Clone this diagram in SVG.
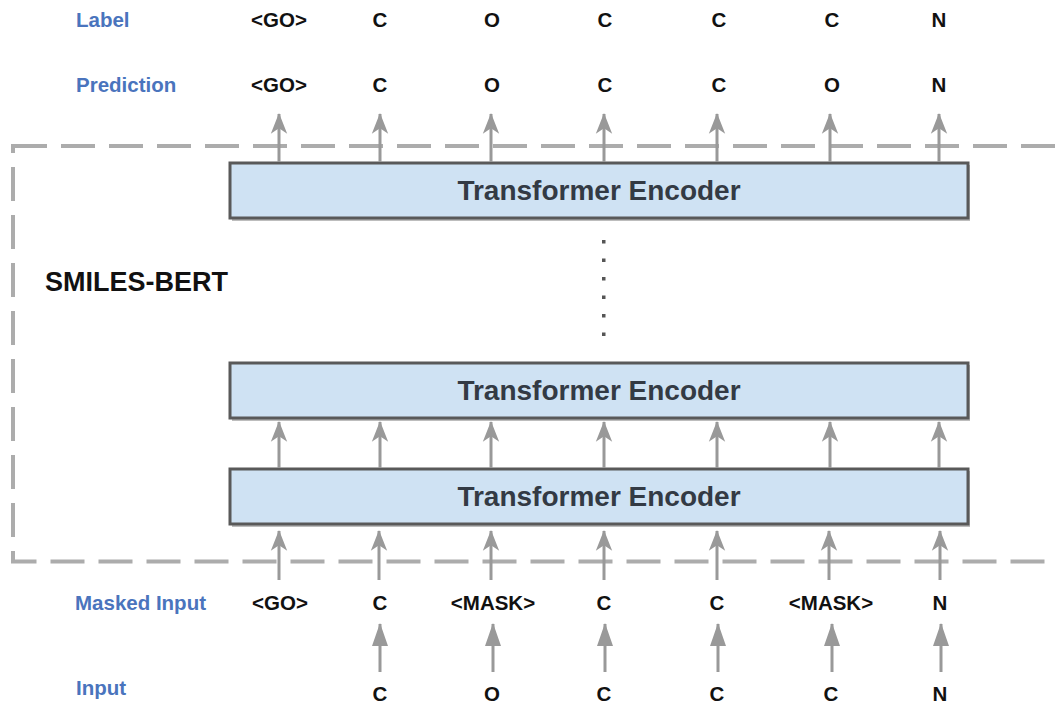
<svg xmlns="http://www.w3.org/2000/svg" width="1057" height="706" viewBox="0 0 1057 706">
<defs>
<style>
.lbl{font-family:"Liberation Sans",Arial,sans-serif;font-weight:bold;font-size:20.5px;fill:#4a74bd}
.tok{font-family:"Liberation Sans",Arial,sans-serif;font-weight:bold;font-size:20.5px;fill:#111;text-anchor:middle}
.enc rect.b{fill:#cfe2f3;stroke:#595959;stroke-width:3}
.enc rect.s{fill:#bdbdbd}
.enc text{font-family:"Liberation Sans",Arial,sans-serif;font-weight:bold;font-size:28px;fill:#333a44;text-anchor:middle}
.ar{stroke:#999;stroke-width:3;fill:none}
.dot{fill:#555}
</style>
<marker id="notch" markerUnits="userSpaceOnUse" markerWidth="24" markerHeight="24" viewBox="-20 -10 22 20" refX="0" refY="0" orient="auto">
<path d="M1,0 L-18,-7.5 L-13,0 L-18,7.5 Z" fill="#999"/>
</marker>
<marker id="tri" markerUnits="userSpaceOnUse" markerWidth="26" markerHeight="26" viewBox="-24 -10 26 20" refX="0" refY="0" orient="auto">
<path d="M1,0 L-22,-8 L-22,8 Z" fill="#999"/>
</marker>
</defs>
<rect width="1057" height="706" fill="#fff"/>

<g id="smiles-bert">
<rect x="13" y="146" width="1100" height="415.5" fill="none" stroke="#acacac" stroke-width="4" stroke-dasharray="34 14"/>
<text x="45" y="291" style="font-family:'Liberation Sans',Arial,sans-serif;font-weight:bold;font-size:27px;fill:#111">SMILES-BERT</text>
</g>

<g id="row-labels">
<text class="lbl" x="76" y="27">Label</text>
<text class="lbl" x="76" y="92">Prediction</text>
<text class="lbl" x="75" y="610">Masked Input</text>
<text class="lbl" x="76" y="695">Input</text>
</g>

<g id="label-tokens">
<text class="tok" x="279" y="27">&lt;GO&gt;</text>
<text class="tok" x="380" y="27">C</text>
<text class="tok" x="492" y="27">O</text>
<text class="tok" x="605" y="27">C</text>
<text class="tok" x="719" y="27">C</text>
<text class="tok" x="832" y="27">C</text>
<text class="tok" x="939" y="27">N</text>
</g>

<g id="prediction-tokens">
<text class="tok" x="279" y="92">&lt;GO&gt;</text>
<text class="tok" x="380" y="92">C</text>
<text class="tok" x="492" y="92">O</text>
<text class="tok" x="605" y="92">C</text>
<text class="tok" x="719" y="92">C</text>
<text class="tok" x="832" y="92">O</text>
<text class="tok" x="939" y="92">N</text>
</g>

<g id="masked-tokens">
<text class="tok" x="280" y="610">&lt;GO&gt;</text>
<text class="tok" x="380" y="610">C</text>
<text class="tok" x="493" y="610">&lt;MASK&gt;</text>
<text class="tok" x="604" y="610">C</text>
<text class="tok" x="717" y="610">C</text>
<text class="tok" x="831" y="610">&lt;MASK&gt;</text>
<text class="tok" x="940" y="610">N</text>
</g>

<g id="input-tokens">
<text class="tok" x="380" y="701">C</text>
<text class="tok" x="492" y="701">O</text>
<text class="tok" x="604" y="701">C</text>
<text class="tok" x="717" y="701">C</text>
<text class="tok" x="831" y="701">C</text>
<text class="tok" x="940" y="701">N</text>
</g>

<g id="encoder-top" class="enc">
<rect class="s" x="232" y="165" width="738" height="56"/>
<rect class="b" x="230" y="163" width="738" height="55"/>
<text x="599" y="200">Transformer Encoder</text>
</g>
<g id="encoder-middle" class="enc">
<rect class="s" x="232" y="365" width="738" height="56"/>
<rect class="b" x="230" y="363" width="738" height="55"/>
<text x="599" y="400">Transformer Encoder</text>
</g>
<g id="encoder-bottom" class="enc">
<rect class="s" x="232" y="471" width="738" height="56"/>
<rect class="b" x="230" y="469" width="738" height="55"/>
<text x="599" y="506">Transformer Encoder</text>
</g>

<g id="ellipsis">
<rect class="dot" x="602" y="240" width="3.5" height="3.5"/>
<rect class="dot" x="602" y="258.5" width="3.5" height="3.5"/>
<rect class="dot" x="602" y="277" width="3.5" height="3.5"/>
<rect class="dot" x="602" y="295.5" width="3.5" height="3.5"/>
<rect class="dot" x="602" y="314" width="3.5" height="3.5"/>
<rect class="dot" x="602" y="332.5" width="3.5" height="3.5"/>
</g>

<g id="connectors">
<g marker-end="url(#notch)" class="ar">
<path d="M279 162 V114"/>
<path d="M380 162 V114"/>
<path d="M491 162 V114"/>
<path d="M604 162 V114"/>
<path d="M717 162 V114"/>
<path d="M830 162 V114"/>
<path d="M939 162 V114"/>

<path d="M279 468 V422"/>
<path d="M380 468 V422"/>
<path d="M491 468 V422"/>
<path d="M604 468 V422"/>
<path d="M717 468 V422"/>
<path d="M830 468 V422"/>
<path d="M939 468 V422"/>

<path d="M279 580 V531"/>
<path d="M379 580 V531"/>
<path d="M491 580 V531"/>
<path d="M604 580 V531"/>
<path d="M717 580 V531"/>
<path d="M829 580 V531"/>
<path d="M940 580 V531"/>
</g>
<g marker-end="url(#tri)" class="ar">
<path d="M380 672 V624"/>
<path d="M493 672 V624"/>
<path d="M605 672 V624"/>
<path d="M718 672 V624"/>
<path d="M832 672 V624"/>
<path d="M941 672 V624"/>
</g>
</g>
</svg>
